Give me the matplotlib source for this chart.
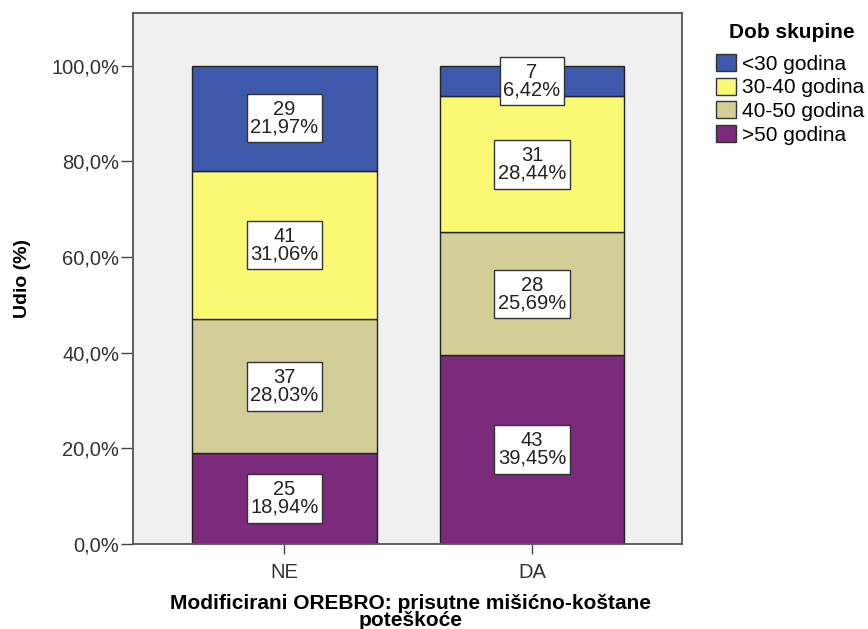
import matplotlib
matplotlib.use("Agg")
import matplotlib.pyplot as plt
from matplotlib.patches import Patch
from matplotlib.path import Path

plt.rcParams['font.family'] = ['Liberation Sans', 'DejaVu Sans']

# Data
categories = ['NE', 'DA']
age_groups = ['<30 godina', '30-40 godina', '40-50 godina', '>50 godina']
counts = {
    '<30 godina':   [29, 7],
    '30-40 godina': [41, 31],
    '40-50 godina': [37, 28],
    '>50 godina':   [25, 43],
}
percents = {
    '<30 godina':   [21.97, 6.42],
    '30-40 godina': [31.06, 28.44],
    '40-50 godina': [28.03, 25.69],
    '>50 godina':   [18.94, 39.45],
}
colors = {
    '<30 godina':   '#3E58AC',
    '30-40 godina': '#FBF873',
    '40-50 godina': '#D3CE98',
    '>50 godina':   '#7B2A7C',
}
yticks = [0, 20, 40, 60, 80, 100]


def rect_box(px, py):
    # square box with separate horizontal / vertical padding (pixels)
    def style(x0, y0, width, height, mutation_size):
        x0, y0 = x0 - px, y0 - py
        x1, y1 = x0 + width + 2 * px, y0 + height + 2 * py
        return Path([(x0, y0), (x1, y0), (x1, y1), (x0, y1), (x0, y0)],
                    closed=True)
    return style


W, H = 868, 629
fig = plt.figure(figsize=(W / 100, H / 100), dpi=100)
ax = fig.add_axes([133 / W, 1 - 544 / H, (682 - 133) / W, (544 - 13) / H])
ax.set_facecolor('#F0F0F0')

x = list(range(len(categories)))
bottoms = [0.0] * len(categories)
# stack from the bottom: >50 first
for grp in reversed(age_groups):
    vals = percents[grp]
    ax.bar(x, vals, bottom=bottoms, width=0.747, color=colors[grp],
           edgecolor='#222222', linewidth=1.0, zorder=2)
    for i, v in enumerate(vals):
        mid = bottoms[i] + v / 2
        txt = f"{counts[grp][i]}\n{v:.2f}%".replace('.', ',')
        ax.text(x[i], mid, txt, ha='center', va='center', fontsize=14.5,
                color='#222222', linespacing=0.9, zorder=4,
                bbox=dict(boxstyle=rect_box(3.5, 6), facecolor='white',
                          edgecolor='#333333', linewidth=1.0))
    bottoms = [b + v for b, v in zip(bottoms, vals)]

ax.set_xlim(-0.612, 1.606)
ax.set_ylim(0, 111)
ax.set_xticks(x)
ax.set_xticklabels(categories)
ax.set_yticks(yticks)
ax.set_yticklabels([f"{t:.1f}%".replace('.', ',') for t in yticks])
ax.tick_params(axis='y', length=9, width=1, color='#444444', pad=1,
               labelsize=14.5, labelcolor='#333333')
ax.tick_params(axis='x', length=7, width=1, color='#444444', pad=7,
               labelsize=14.5, labelcolor='#333333')
for s in ax.spines.values():
    s.set_color('#555555')
    s.set_linewidth(1.3)

ax.set_ylabel('Udio (%)', fontsize=14, fontweight='bold')
ax.yaxis.set_label_coords((31 - 133) / 549, 0.5)
ax.set_xlabel('Modificirani OREBRO: prisutne mišićno-koštane\npoteškoće',
              fontsize=15, fontweight='bold', linespacing=0.84)
ax.xaxis.set_label_coords((411 - 133) / 549, (544 - 594) / 531)

fig.text(792 / W, 1 - 33 / H, 'Dob skupine', ha='center', va='center',
         fontsize=15, fontweight='bold')
handles = [Patch(facecolor=colors[g], edgecolor='#333333', linewidth=1.0)
           for g in age_groups]
fig.legend(handles, age_groups, loc='upper left',
           bbox_to_anchor=(716 / W, 1 - 54 / H), frameon=False,
           fontsize=15, borderpad=0, borderaxespad=0,
           handlelength=0.96, handleheight=0.9, handletextpad=0.3,
           labelspacing=0.18)

fig.savefig('out.png', dpi=100)
